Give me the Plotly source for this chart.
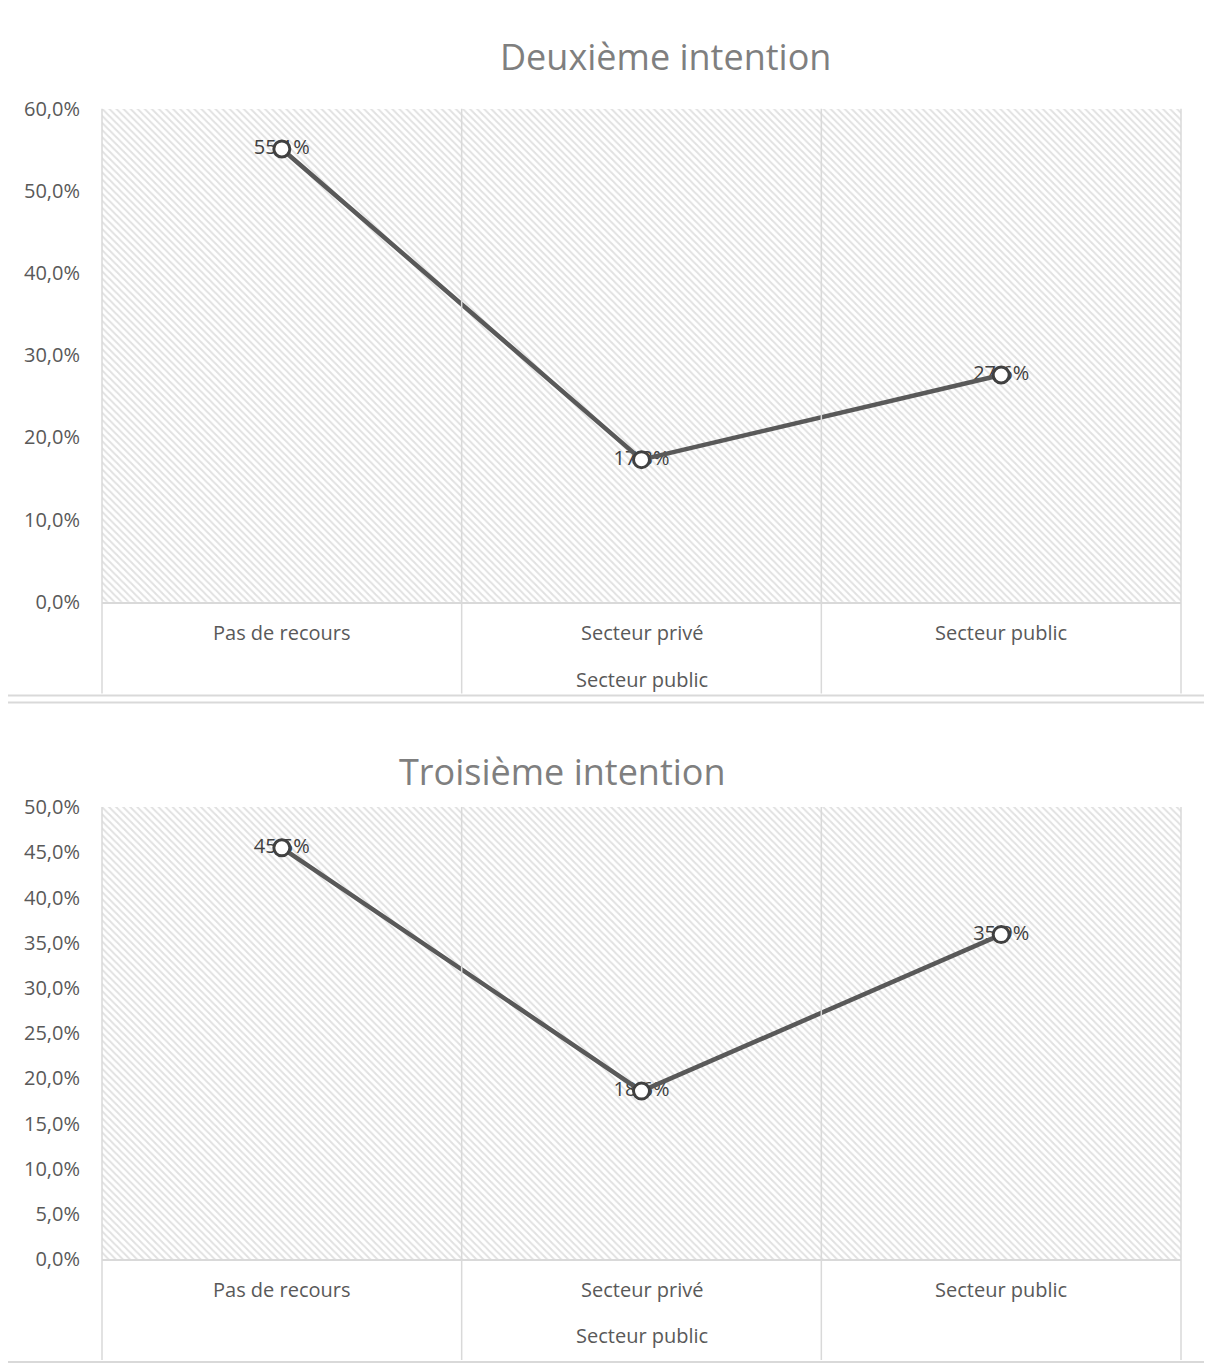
import plotly.graph_objects as go

# données
categories = ["Pas de recours", "Secteur privé", "Secteur public"]
deuxieme = [55.1, 17.3, 27.6]
troisieme = [45.5, 18.6, 35.9]
titres = ["Deuxième intention", "Troisième intention"]
axe_titre = "Secteur public"
y_max = [60, 50]
y_step = [10, 5]

W, H = 1212, 1367
FONT = "Open Sans"
GRID = "#d9d9d9"
TXT = "#595959"

# correction du décalage observé au rendu (page offset / hauteur effective)
OFF_X, OFF_Y, H_EFF = 8, 20, 1345


def px(x):
    return (x - OFF_X) / W


def py(y):
    return 1 - (y - OFF_Y) / H_EFF


fig = go.Figure()

# zones de tracé (en pixels de la référence)
zones = [dict(top=107, bottom=602, box_top=2, box_bottom=696, title_x=665, title_y=55,
              cat_y=633, axt_y=680),
         dict(top=808, bottom=1262, box_top=703, box_bottom=1365, title_x=562, title_y=772,
              cat_y=1292, axt_y=1338)]
left, right = 102, 1181

series = [deuxieme, troisieme]
shapes = []
annotations = []
for i, (vals, z) in enumerate(zip(series, zones)):
    xa = "x" if i == 0 else "x2"
    ya = "y" if i == 0 else "y2"
    # fond hachuré
    fig.add_trace(go.Bar(
        x=categories, y=[y_max[i]] * 3, xaxis=xa, yaxis=ya, width=1,
        marker=dict(color="white", line=dict(width=0),
                    pattern=dict(shape="\\", fgcolor="#c4c4c4", bgcolor="white",
                                 size=5, solidity=0.4)),
        hoverinfo="skip", showlegend=False))
    # étiquettes (sous les marqueurs, comme dans Excel)
    fig.add_trace(go.Scatter(
        x=categories, y=vals, xaxis=xa, yaxis=ya, mode="text",
        text=[f"{v:.1f}%".replace(".", ",") for v in vals],
        textposition="middle center",
        textfont=dict(family=FONT, size=20, color="#404040"),
        showlegend=False, cliponaxis=False, hoverinfo="skip"))
    # courbe
    fig.add_trace(go.Scatter(
        x=categories, y=vals, xaxis=xa, yaxis=ya, mode="lines+markers",
        line=dict(color="#595959", width=4.5),
        marker=dict(symbol="circle", size=16, color="white",
                    line=dict(color="#404040", width=3)),
        showlegend=False, cliponaxis=False))

    # séparateurs de catégories (jusqu'en bas)
    for k in range(4):
        xp = left + k * (right - left) / 3
        shapes.append(dict(type="line", xref="paper", yref="paper",
                           x0=px(xp), x1=px(xp), y0=py(z["top"]), y1=py(z["box_bottom"] - 2),
                           line=dict(color=GRID, width=1.5), layer="above"))
    # cadre du graphique
    shapes.append(dict(type="rect", xref="paper", yref="paper",
                       x0=px(3), x1=px(1209), y0=py(z["box_bottom"]), y1=py(z["box_top"]),
                       line=dict(color="#d9d9d9", width=2), layer="below"))
    annotations.append(dict(text=titres[i], xref="paper", yref="paper",
                            x=px(z["title_x"]), y=py(z["title_y"]), showarrow=False,
                            xanchor="center", yanchor="middle",
                            font=dict(family=FONT, size=36, color="#7f7f7f")))
    for k, c in enumerate(categories):
        annotations.append(dict(text=c, xref="paper", yref="paper",
                                x=px(left + (k + 0.5) * (right - left) / 3), y=py(z["cat_y"]),
                                showarrow=False, xanchor="center", yanchor="middle",
                                font=dict(family=FONT, size=20, color=TXT)))
    annotations.append(dict(text=axe_titre, xref="paper", yref="paper",
                            x=px((left + right) / 2), y=py(z["axt_y"]), showarrow=False,
                            xanchor="center", yanchor="middle",
                            font=dict(family=FONT, size=20, color=TXT)))

    xaxis = dict(domain=[px(left), px(right)], anchor=ya, range=[-0.5, 2.5],
                 showgrid=True, gridcolor=GRID, gridwidth=1, showticklabels=False,
                 showline=True, linecolor=GRID, linewidth=2, zeroline=False, fixedrange=True)
    yaxis = dict(domain=[py(z["bottom"]), py(z["top"])], anchor=xa, range=[0, y_max[i]],
                 dtick=y_step[i], tickformat=".1f", ticksuffix="%",
                 showgrid=True, gridcolor=GRID, gridwidth=1, zeroline=False,
                 showline=False, ticks="", ticklabelstandoff=21,
                 tickfont=dict(family=FONT, size=20, color=TXT))
    if i == 0:
        fig.update_layout(xaxis=xaxis, yaxis=yaxis)
    else:
        fig.update_layout(xaxis2=xaxis, yaxis2=yaxis)

fig.update_layout(
    width=W, height=H, margin=dict(l=0, r=0, t=0, b=0),
    paper_bgcolor="white", plot_bgcolor="white",
    separators=", ", bargap=0,
    shapes=shapes, annotations=annotations,
)

fig.write_html("out.html")
